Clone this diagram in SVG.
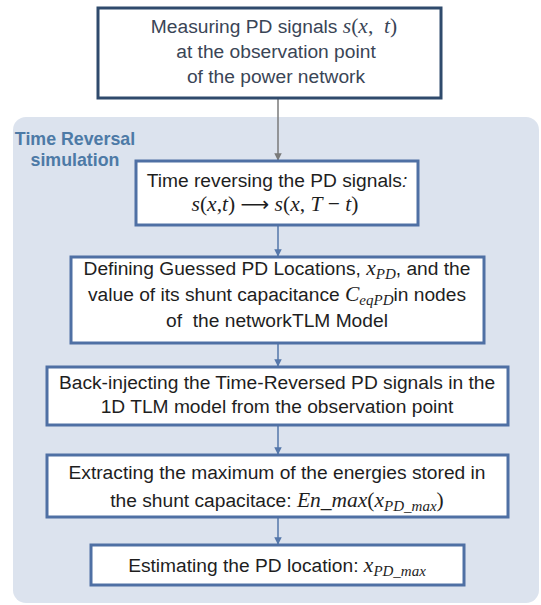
<svg xmlns="http://www.w3.org/2000/svg" width="541" height="605" viewBox="0 0 541 605">
  <defs>
    <marker id="arrGray" viewBox="0 0 10 10" refX="9" refY="5" markerWidth="5" markerHeight="5" orient="auto" markerUnits="strokeWidth">
      <path d="M0,0 L10,5 L0,10 z" fill="#7a7a7a"/>
    </marker>
    <marker id="arrBlue" viewBox="0 0 10 10" refX="9" refY="5" markerWidth="5" markerHeight="5" orient="auto" markerUnits="strokeWidth">
      <path d="M0,0 L10,5 L0,10 z" fill="#5577aa"/>
    </marker>
    <style>
      .txt { font-family: "Liberation Sans", Arial, sans-serif; font-size: 19.2px; fill: #1e1e1e; text-anchor: middle; }
      .top { fill: #3a4556; }
      .m { font-family: "Liberation Serif", "DejaVu Serif", serif; font-style: italic; font-size: 21.5px; }
      .mr { font-family: "Liberation Serif", "DejaVu Serif", serif; font-style: normal; font-size: 21.5px; }
      .sub { font-family: "Liberation Serif", "DejaVu Serif", serif; font-style: italic; font-size: 15px; }
      .box { fill: #ffffff; stroke: #4f70a4; stroke-width: 3; }
      .boxTop { fill: #ffffff; stroke: #2f4a6c; stroke-width: 3; }
      .group-label { font-family: "Liberation Sans", Arial, sans-serif; font-size: 17.8px; font-weight: bold; fill: #4d7aa6; text-anchor: middle; }
    </style>
  </defs>

  <!-- background -->
  <rect x="0" y="0" width="541" height="605" fill="#ffffff"/>

  <!-- simulation container -->
  <g id="tr-simulation">
    <rect x="13" y="117" width="526" height="486" rx="13" ry="13" fill="#dce3ee"/>
    <text class="group-label" x="75" y="145">Time Reversal</text>
    <text class="group-label" x="75" y="166">simulation</text>
  </g>

  <!-- connectors -->
  <g id="connectors" fill="none">
    <line x1="278" y1="98" x2="278" y2="160" stroke="#7a7a7a" stroke-width="1.5" marker-end="url(#arrGray)"/>
    <line x1="278" y1="225" x2="278" y2="256" stroke="#5577aa" stroke-width="1.5" marker-end="url(#arrBlue)"/>
    <line x1="278" y1="343" x2="278" y2="366" stroke="#5577aa" stroke-width="1.5" marker-end="url(#arrBlue)"/>
    <line x1="278" y1="425" x2="278" y2="454" stroke="#5577aa" stroke-width="1.5" marker-end="url(#arrBlue)"/>
    <line x1="278" y1="517" x2="278" y2="544" stroke="#5577aa" stroke-width="1.5" marker-end="url(#arrBlue)"/>
  </g>

  <!-- step 0: measurement -->
  <g id="measure">
    <rect class="boxTop" x="98" y="8" width="343" height="90"/>
    <text class="txt top" x="274" y="33" xml:space="preserve">Measuring PD signals <tspan class="m">s</tspan><tspan class="mr">(</tspan><tspan class="m">x</tspan><tspan class="mr">,  </tspan><tspan class="m">t</tspan><tspan class="mr">)</tspan></text>
    <text class="txt top" x="276" y="58">at the observation point</text>
    <text class="txt top" x="276" y="83">of the power network</text>
  </g>

  <!-- step 1: time reversal -->
  <g id="reverse">
    <rect class="box" x="136" y="161" width="282" height="64"/>
    <text class="txt" x="277" y="187">Time reversing the PD signals<tspan font-style="italic">:</tspan></text>
    <text class="txt" x="275" y="211" xml:space="preserve"><tspan class="m">s</tspan><tspan class="mr">(</tspan><tspan class="m">x</tspan><tspan class="mr">,</tspan><tspan class="m">t</tspan><tspan class="mr">) </tspan><tspan font-family="'DejaVu Sans', sans-serif" font-size="20">⟶</tspan><tspan class="mr"> </tspan><tspan class="m">s</tspan><tspan class="mr">(</tspan><tspan class="m">x</tspan><tspan class="mr">, </tspan><tspan class="m">T</tspan><tspan class="mr"> − </tspan><tspan class="m">t</tspan><tspan class="mr">)</tspan></text>
  </g>

  <!-- step 2: guessed locations -->
  <g id="guess">
    <rect class="box" x="71" y="257" width="413" height="86"/>
    <text class="txt" x="277" y="275">Defining Guessed PD Locations, <tspan class="m">x</tspan><tspan class="sub" dy="4">PD</tspan><tspan dy="-4">, and the</tspan></text>
    <text class="txt" x="277" y="301">value of its shunt capacitance <tspan class="m">C</tspan><tspan class="sub" dy="4">eqPD</tspan><tspan dy="-4">in nodes</tspan></text>
    <text class="txt" x="277" y="327" xml:space="preserve">of  the networkTLM Model</text>
  </g>

  <!-- step 3: back-injection -->
  <g id="inject">
    <rect class="box" x="47" y="367" width="461" height="58"/>
    <text class="txt" x="277" y="389">Back-injecting the Time-Reversed PD signals in the</text>
    <text class="txt" x="277" y="413">1D TLM model from the observation point</text>
  </g>

  <!-- step 4: energy maximum -->
  <g id="extract">
    <rect class="box" x="47" y="455" width="461" height="62"/>
    <text class="txt" x="277" y="479">Extracting the maximum of the energies stored in</text>
    <text class="txt" x="277" y="507">the shunt capacitace: <tspan class="m">En_max</tspan><tspan class="mr">(</tspan><tspan class="m">x</tspan><tspan class="sub" dy="4">PD_max</tspan><tspan class="mr" dy="-4">)</tspan></text>
  </g>

  <!-- step 5: estimate -->
  <g id="estimate">
    <rect class="box" x="91" y="545" width="373" height="40"/>
    <text class="txt" x="277" y="572">Estimating the PD location: <tspan class="m">x</tspan><tspan class="sub" dy="4">PD_max</tspan></text>
  </g>
</svg>
